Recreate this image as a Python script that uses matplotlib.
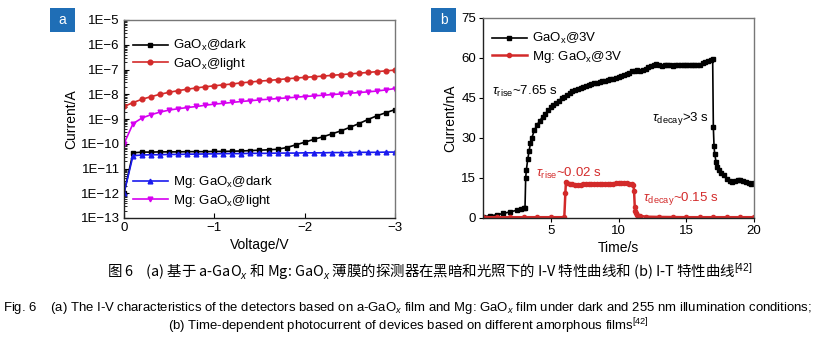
import math
import matplotlib
matplotlib.use("Agg")
import matplotlib.pyplot as plt
from matplotlib.patches import Rectangle
from matplotlib.ticker import FixedLocator, FuncFormatter, LogLocator, NullFormatter

plt.rcParams['font.family'] = ['Liberation Sans', 'DejaVu Sans']
plt.rcParams['mathtext.fontset'] = 'custom'
plt.rcParams['mathtext.rm'] = 'Liberation Sans'
plt.rcParams['mathtext.it'] = 'Liberation Sans:italic'
plt.rcParams['mathtext.bf'] = 'Liberation Sans:bold'
plt.rcParams['axes.unicode_minus'] = True

# ---------------- Panel a data (I-V) ----------------
volts = [0, -0.1, -0.2, -0.3, -0.4, -0.5, -0.6, -0.7, -0.8, -0.9, -1.0,
         -1.1, -1.2, -1.3, -1.4, -1.5, -1.6, -1.7, -1.8, -1.9, -2.0,
         -2.1, -2.2, -2.3, -2.4, -2.5, -2.6, -2.7, -2.8, -2.9, -3.0]
gaox_dark = [1.0e-12, 4.3e-11, 4.6e-11, 4.6e-11, 4.7e-11, 4.7e-11, 4.7e-11, 4.8e-11, 4.8e-11, 4.8e-11, 4.9e-11,
             4.9e-11, 5.0e-11, 5.1e-11, 5.3e-11, 5.5e-11, 5.7e-11, 6.0e-11, 7.0e-11, 9.0e-11, 1.15e-10,
             1.5e-10, 1.9e-10, 2.5e-10, 3.3e-10, 4.6e-10, 6.5e-10, 9.5e-10, 1.35e-9, 1.8e-9, 2.4e-9]
gaox_light = [3.2e-9, 4.6e-9, 6.3e-9, 8.0e-9, 1.0e-8, 1.2e-8, 1.4e-8, 1.6e-8, 1.8e-8, 2.0e-8, 2.2e-8,
              2.4e-8, 2.6e-8, 2.9e-8, 3.1e-8, 3.4e-8, 3.6e-8, 3.9e-8, 4.2e-8, 4.5e-8, 4.8e-8,
              5.1e-8, 5.4e-8, 5.8e-8, 6.2e-8, 6.6e-8, 7.1e-8, 7.6e-8, 8.2e-8, 8.8e-8, 9.5e-8]
mg_dark = [1.0e-12, 3.3e-11, 3.5e-11, 3.6e-11, 3.6e-11, 3.7e-11, 3.7e-11, 3.8e-11, 3.8e-11, 3.9e-11, 3.9e-11,
           4.0e-11, 4.0e-11, 4.0e-11, 4.1e-11, 4.1e-11, 4.1e-11, 4.2e-11, 4.2e-11, 4.2e-11, 4.3e-11,
           4.3e-11, 4.3e-11, 4.4e-11, 4.4e-11, 4.4e-11, 4.5e-11, 4.5e-11, 4.5e-11, 4.6e-11, 4.6e-11]
mg_light = [1.0e-10, 6.5e-10, 1.1e-9, 1.5e-9, 1.9e-9, 2.3e-9, 2.6e-9, 2.9e-9, 3.2e-9, 3.6e-9, 4.0e-9,
            4.3e-9, 4.7e-9, 5.1e-9, 5.5e-9, 5.9e-9, 6.3e-9, 6.7e-9, 7.1e-9, 7.6e-9, 8.1e-9,
            8.6e-9, 9.1e-9, 9.7e-9, 1.03e-8, 1.1e-8, 1.17e-8, 1.25e-8, 1.35e-8, 1.5e-8, 1.7e-8]
a_yticks = [1e-13, 1e-12, 1e-11, 1e-10, 1e-9, 1e-8, 1e-7, 1e-6, 1e-5]
a_xticks = [0, -1, -2, -3]

# ---------------- Panel b data (I-t) ----------------
gaox_t = [0.0, 0.5, 1.0, 1.5, 2.0, 2.5, 2.8, 3.0, 3.1, 3.15, 3.2, 3.3, 3.4, 3.5, 3.6, 3.8,
          4.0, 4.2, 4.4, 4.6, 4.8, 5.0, 5.2, 5.4, 5.6, 5.8, 6.0, 6.2, 6.4, 6.6, 6.8,
          7.0, 7.2, 7.4, 7.6, 7.8, 8.0, 8.2, 8.4, 8.6, 8.8, 9.0, 9.2, 9.4, 9.6, 9.8,
          10.0, 10.2, 10.4, 10.6, 10.8, 11.0, 11.2, 11.4, 11.6, 11.8, 12.0, 12.2, 12.4, 12.6, 12.8,
          13.0, 13.2, 13.4, 13.6, 13.8, 14.0, 14.2, 14.4, 14.6, 14.8, 15.0, 15.2, 15.4, 15.6, 15.8,
          16.0, 16.2, 16.4, 16.6, 16.8, 16.95, 17.0, 17.05, 17.1, 17.2, 17.3, 17.4, 17.6, 17.8,
          18.0, 18.2, 18.4, 18.6, 18.8, 19.0, 19.2, 19.4, 19.6, 19.8, 20.0]
gaox_i = [0.5, 0.8, 1.2, 1.7, 2.3, 2.9, 3.3, 3.6, 3.8, 15.0, 18.0, 22.0, 25.0, 28.0, 30.0, 33.0,
          35.0, 36.5, 38.0, 39.0, 40.5, 41.5, 42.5, 43.0, 44.0, 45.0, 45.5, 46.0, 46.8, 47.5, 48.0,
          48.3, 48.8, 49.0, 49.5, 50.0, 50.3, 50.5, 50.8, 51.0, 51.3, 51.5, 51.8, 52.0, 52.3, 52.5,
          52.8, 53.2, 53.5, 54.0, 54.5, 55.0, 55.3, 55.5, 55.0, 55.5, 56.0, 56.5, 57.0, 57.5, 57.8,
          57.5, 57.0, 57.5, 57.2, 57.3, 57.0, 57.3, 57.5, 57.2, 57.4, 57.3, 57.5, 57.2, 57.5, 57.3,
          57.5, 58.0, 58.5, 59.0, 59.3, 59.5, 34.0, 27.0, 24.0, 21.0, 19.0, 18.0, 17.0, 16.0,
          14.5, 13.8, 13.5, 13.8, 14.3, 14.3, 13.8, 13.5, 13.0, 12.8, 13.0]
mg_t = [0.0, 1.0, 2.0, 3.0, 4.0, 5.0, 6.0, 6.08, 6.12, 6.2, 6.4, 6.6, 6.8, 7.0, 7.2, 7.4, 7.6, 7.8,
        8.0, 8.2, 8.4, 8.6, 8.8, 9.0, 9.2, 9.4, 9.6, 9.8, 10.0, 10.2, 10.4, 10.6, 10.8, 11.0,
        11.1, 11.15, 11.2, 11.25, 11.3, 11.4, 11.6, 12.0, 13.0, 14.0, 15.0, 16.0, 17.0, 18.0, 19.0, 20.0]
mg_i = [0.3, 0.3, 0.3, 0.3, 0.3, 0.3, 0.3, 9.5, 13.5, 13.2, 12.8, 12.6, 12.5, 12.5, 12.5, 12.6, 12.6, 12.7,
        12.7, 12.7, 12.8, 12.8, 12.8, 12.9, 12.9, 12.9, 12.9, 13.0, 13.0, 13.0, 13.0, 13.0, 12.9, 12.9,
        12.5, 10.0, 4.2, 2.8, 2.0, 1.3, 0.8, 0.5, 0.4, 0.35, 0.3, 0.3, 0.3, 0.3, 0.3, 0.3]
b_yticks = [0, 15, 30, 45, 60, 75]
b_xticks = [5, 10, 15, 20]

RED = '#d32a2a'
BLUE = '#1a1aee'
MAG = '#d600f0'
LBL_BLUE = '#1f6eb6'
FS = 9.5

fig = plt.figure(figsize=(8.16, 3.38), dpi=100)

def style_spines(ax):
    for s in ['left', 'bottom']:
        ax.spines[s].set_color('#222222')
        ax.spines[s].set_linewidth(1.0)
    for s in ['right', 'top']:
        ax.spines[s].set_color('#777777')
        ax.spines[s].set_linewidth(1.0)

LEGKW = dict(frameon=False, fontsize=FS, handlelength=2.6, handletextpad=0.4,
             labelspacing=0.2, borderaxespad=0.3)

# ---------------- Panel a ----------------
axa = fig.add_axes([124/816, 1-218/338, 271/816, 198/338])
axa.set_yscale('log')
axa.plot(volts, gaox_dark, '-s', color='black', ms=3.2, lw=1.2, label='GaO$_\\mathrm{x}$@dark')
axa.plot(volts, gaox_light, '-o', color=RED, ms=3.4, lw=1.2, label='GaO$_\\mathrm{x}$@light')
axa.plot(volts, mg_dark, '-^', color=BLUE, ms=3.4, lw=1.2, label='Mg: GaO$_\\mathrm{x}$@dark')
axa.plot(volts, mg_light, '-v', color=MAG, ms=3.4, lw=1.2, label='Mg: GaO$_\\mathrm{x}$@light')
axa.set_xlim(0, -3)
axa.set_ylim(1e-13, 1e-5)
axa.yaxis.set_major_locator(FixedLocator(a_yticks))
axa.yaxis.set_major_formatter(FuncFormatter(lambda v, p: '1E\u2212%d' % round(-math.log10(v))))
axa.yaxis.set_minor_locator(LogLocator(base=10, subs=[2, 3, 4, 5, 6, 7, 8, 9], numticks=20))
axa.yaxis.set_minor_formatter(NullFormatter())
axa.xaxis.set_major_locator(FixedLocator(a_xticks))
axa.xaxis.set_major_formatter(FuncFormatter(lambda v, p: '0' if v == 0 else '\u2212%d' % round(-v)))
axa.tick_params(axis='both', which='major', direction='in', length=3.5, labelsize=FS, top=False, right=False, pad=3)
axa.tick_params(axis='y', which='minor', direction='in', length=1.8, right=False)
axa.set_ylabel('Current/A', fontsize=FS + 0.5, labelpad=2)
axa.set_xlabel('Voltage/V', fontsize=FS + 0.5, labelpad=3)
style_spines(axa)
h, l = axa.get_legend_handles_labels()
leg1 = axa.legend(h[:2], l[:2], loc='upper left', bbox_to_anchor=(0.0, 0.955), **LEGKW)
axa.add_artist(leg1)
axa.legend(h[2:], l[2:], loc='lower left', bbox_to_anchor=(0.0, 0.0), **LEGKW)

# ---------------- Panel b ----------------
axb = fig.add_axes([483/816, 1-218/338, 271/816, 200/338])
axb.plot(gaox_t, gaox_i, '-s', color='black', ms=3.3, lw=1.2, label='GaO$_\\mathrm{x}$@3V')
axb.plot(mg_t, mg_i, '-o', color=RED, ms=3.0, lw=1.8, label='Mg: GaO$_\\mathrm{x}$@3V')
axb.set_xlim(0, 20)
axb.set_ylim(0, 75)
axb.xaxis.set_major_locator(FixedLocator(b_xticks))
axb.yaxis.set_major_locator(FixedLocator(b_yticks))
axb.tick_params(axis='both', which='major', direction='out', length=3, labelsize=FS, top=False, right=False, pad=2)
axb.set_ylabel('Current/nA', fontsize=FS + 0.5, labelpad=3)
axb.set_xlabel('Time/s', fontsize=FS + 0.5, labelpad=3)
style_spines(axb)
axb.legend(loc='upper left', bbox_to_anchor=(0.0, 0.98), **LEGKW)
axb.text(0.7, 46, r'$\tau_{\rm rise}$~7.65 s', fontsize=FS, color='black')
axb.text(12.5, 36.5, r'$\tau_{\rm decay}$>3 s', fontsize=FS, color='black')
axb.text(3.9, 15.5, r'$\tau_{\rm rise}$~0.02 s', fontsize=FS, color=RED)
axb.text(11.8, 6.5, r'$\tau_{\rm decay}$~0.15 s', fontsize=FS, color=RED)

# ---------------- Panel labels ----------------
for (x0, lab) in [(50, 'a'), (431, 'b')]:
    fig.patches.append(Rectangle((x0/816, 1-32/338), 25/816, 24/338, transform=fig.transFigure,
                                 facecolor=LBL_BLUE, edgecolor='none', zorder=5))
    fig.text((x0 + 12.5)/816, 1-20/338, lab, color='white', fontsize=10, ha='center', va='center', zorder=6)

# ---------------- Captions ----------------
fig.text(430/816, 1-272/338,
         '图 6    (a) 基于 a-GaO$_x$ 和 Mg: GaO$_x$ 薄膜的探测器在黑暗和光照下的 I-V 特性曲线和 (b) I-T 特性曲线$^{[42]}$',
         family=['Noto Sans CJK SC', 'DejaVu Sans'], fontsize=10.4, ha='center', va='center')
fig.text(408/816, 1-308/338,
         'Fig. 6    (a) The I-V characteristics of the detectors based on a-GaO$_x$ film and Mg: GaO$_x$ film under dark and 255 nm illumination conditions;',
         family=['Liberation Sans Narrow', 'Liberation Sans'], fontsize=9.45, ha='center', va='center')
fig.text(408/816, 1-326/338,
         '(b) Time-dependent photocurrent of devices based on different amorphous films$^{[42]}$',
         family=['Liberation Sans Narrow', 'Liberation Sans'], fontsize=9.45, ha='center', va='center')

fig.savefig('out.png', dpi=100)
